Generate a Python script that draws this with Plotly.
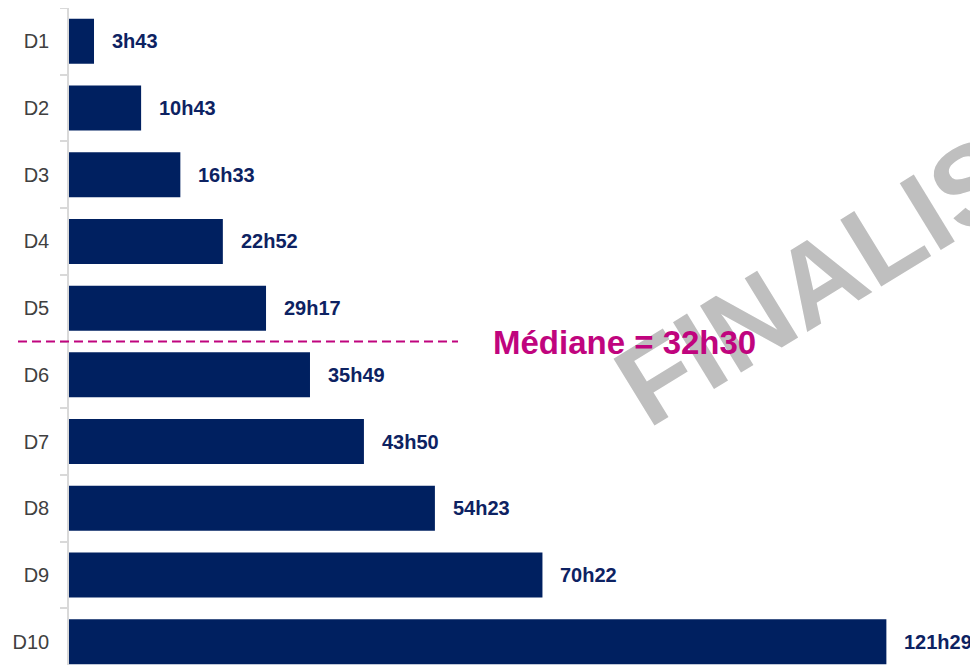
import plotly.graph_objects as go

categories = ["D1", "D2", "D3", "D4", "D5", "D6", "D7", "D8", "D9", "D10"]
duration_labels = ["3h43", "10h43", "16h33", "22h52", "29h17",
                   "35h49", "43h50", "54h23", "70h22", "121h29"]
median_label = "32h30"
watermark_text = "FINALISÉ"


def to_hours(s):
    h, m = s.split("h")
    return int(h) + int(m) / 60.0


hours = [to_hours(s) for s in duration_labels]

BAR = "#002060"
LABEL = "#0D2262"
MAGENTA = "#C0047E"
AXIS = "#D9D9D9"

PAGE = 8                     # browser body margin
W, H = 978 - PAGE, 665 - PAGE
PL, PT = 69, 8               # plot-area origin in page pixels
PW, PH = 978 - PL, 665 - PT  # plot-area size
x_max = 135.1
y_range = [9.35, -0.5]


def px(xp):
    return (xp - PL) / PW


def py(yp):
    return 1 - (yp - PT) / PH


fig = go.Figure()
fig.add_trace(go.Bar(
    y=categories, x=hours, orientation="h",
    marker=dict(color=BAR, line=dict(width=0)),
    width=0.675, hoverinfo="skip",
))

annotations = []
annotations.append(dict(
    text="<b>%s</b>" % watermark_text, xref="paper", yref="paper",
    x=px(848), y=py(260),
    xanchor="center", yanchor="middle", showarrow=False, textangle=-31.5,
    font=dict(family="Liberation Sans, Arial, sans-serif", size=114, color="#BFBFBF"),
))

for c, v, s in zip(categories, hours, duration_labels):
    annotations.append(dict(
        text="<b>%s</b>" % s, x=v, y=c, xref="x", yref="y",
        xanchor="left", yanchor="middle", xshift=16, showarrow=False,
        font=dict(family="Liberation Sans, Arial, sans-serif", size=20, color=LABEL),
    ))

med_pos = 4.5
span = y_range[0] - y_range[1]
med_paper_y = 1 - (med_pos - y_range[1]) / span

annotations.append(dict(
    text="<b>Médiane = %s</b>" % median_label, xref="paper", yref="paper",
    x=px(491), y=med_paper_y, xanchor="left", yanchor="middle",
    yshift=-1, showarrow=False,
    font=dict(family="Liberation Sans, Arial, sans-serif", size=33, color=MAGENTA),
))

shapes = [dict(
    type="line", xref="paper", yref="paper",
    x0=px(18), x1=px(458), y0=med_paper_y, y1=med_paper_y,
    line=dict(color=MAGENTA, width=2, dash="9px,5px"),
)]

fig.update_layout(
    width=W, height=H, autosize=False,
    margin=dict(l=PL - PAGE, r=0, t=PT - PAGE, b=0, pad=0),
    paper_bgcolor="white", plot_bgcolor="white",
    showlegend=False,
    annotations=annotations, shapes=shapes,
    xaxis=dict(range=[0, x_max], visible=False, fixedrange=True),
    yaxis=dict(
        type="category", categoryorder="array", categoryarray=categories,
        range=y_range, showline=True, linecolor=AXIS, linewidth=1.5,
        ticks="outside", ticklen=7, tickcolor=AXIS, tickwidth=1.5,
        tickson="boundaries", showgrid=False, zeroline=False,
        ticklabelstandoff=14, automargin=False,
        tickfont=dict(family="Liberation Sans, Arial, sans-serif", size=20, color="#404040"),
    ),
)

fig.write_html("out.html")
